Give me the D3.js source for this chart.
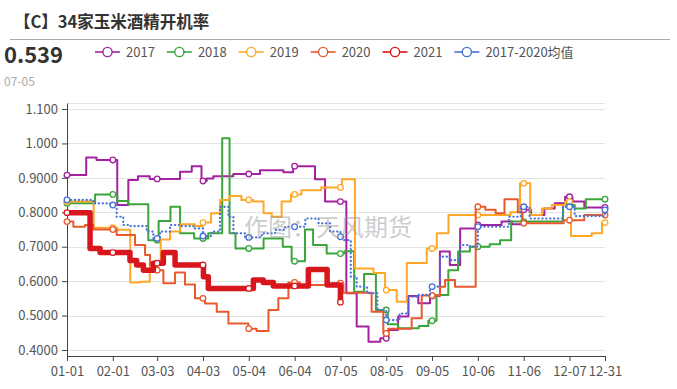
<!DOCTYPE html>
<html><head><meta charset="utf-8">
<script src="https://cdn.jsdelivr.net/npm/d3@7"></script>
<style>
html,body{margin:0;padding:0;background:#fff;}
svg{display:block;font-family:"Microsoft YaHei","Noto Sans CJK SC","Noto Sans",sans-serif;}
</style></head>
<body><svg id="c" width="677" height="389"></svg>
<script>
// ---- data ----
const tickDays = [0, 31, 61, 92, 123, 154, 185, 216, 247, 278, 309, 340, 364];
const tickLabels = ["01-01","02-01","03-03","04-03","05-04","06-04","07-05","08-05","09-05","10-06","11-06","12-07","12-31"];
const yTicks = [0.4, 0.5, 0.6, 0.7, 0.8, 0.9, 1.0, 1.1];
const yTickLabels = ["0.4000","0.5000","0.6000","0.7000","0.8000","0.9000","1.000","1.100"];
const seriesNames = ["2017","2018","2019","2020","2021","2017-2020均值"];

const days2017 = [0,13,20,34,41.5,48,56,76.5,84.4,91,94.5,99,112.5,130.6,146.4,153,167.8,174.6,189,196,204,212,217.4,224,231,237.7,245.6,252.3,259,266,277,294,301,308,314,323,330,337,342,350,364];
const vals2017 = [0.908,0.959,0.952,0.821,0.894,0.905,0.897,0.918,0.934,0.891,0.898,0.905,0.911,0.922,0.916,0.934,0.896,0.831,0.565,0.468,0.424,0.434,0.458,0.497,0.557,0.536,0.557,0.686,0.647,0.753,0.763,0.773,0.765,0.807,0.792,0.811,0.826,0.845,0.831,0.814,0.814];

const days2018 = [0,19,34,41.5,55,62,70,76.5,86,95.6,105,110,114,133,146,152,161,166.5,175.7,187.7,194.3,201,209,217,224,238,244.5,250,258,264.6,272.6,286,293,300.5,335.6,343.5,351,364];
const vals2018 = [0.826,0.852,0.833,0.823,0.719,0.775,0.816,0.739,0.724,0.739,1.015,0.739,0.695,0.724,0.700,0.658,0.750,0.705,0.680,0.687,0.569,0.621,0.516,0.475,0.463,0.470,0.485,0.560,0.632,0.686,0.700,0.707,0.719,0.773,0.821,0.811,0.838,0.838];

const days2019 = [0,18,34,42.8,49.5,56,63.4,69.7,76.5,86.6,92,97.5,103.5,110,118,126,133,138.5,145.2,151.5,158.6,172,186,194.8,207.3,215.2,223.1,229.9,243.4,250.2,258.1,300,306.5,313.4,321.3,328,337,341,355,362,364];
const vals2019 = [0.831,0.755,0.749,0.596,0.598,0.652,0.721,0.744,0.765,0.760,0.770,0.797,0.836,0.847,0.836,0.831,0.797,0.787,0.831,0.852,0.864,0.872,0.896,0.637,0.624,0.574,0.540,0.653,0.695,0.739,0.792,0.800,0.884,0.792,0.811,0.821,0.831,0.731,0.739,0.770,0.770];

const days2020 = [0,4.3,12.2,17.8,33.6,46,52.8,56.2,60.7,65.2,73.1,79.8,86.6,93.4,101.3,109.2,122.7,128.3,136.3,143,149.8,157.6,180,187,206.1,214,217.4,233.2,240,252.4,255.8,262.5,276.5,283,290,296,305,308,336,350,364];
const vals2020 = [0.773,0.758,0.763,0.750,0.734,0.705,0.676,0.647,0.632,0.594,0.625,0.590,0.550,0.535,0.511,0.477,0.462,0.455,0.516,0.550,0.596,0.589,0.594,0.566,0.511,0.448,0.462,0.492,0.558,0.584,0.603,0.584,0.816,0.807,0.797,0.838,0.800,0.768,0.777,0.792,0.792];

const days2021 = [0,15.6,22.4,42.6,47.1,51.7,58.4,65.2,73.1,92.3,95.6,126.1,132.8,139.6,163.3,176,185];
const vals2021 = [0.799,0.695,0.683,0.660,0.647,0.632,0.652,0.683,0.647,0.613,0.579,0.603,0.596,0.586,0.634,0.589,0.539];

const daysAvg = [0,17.8,29.1,33.6,38.1,42.6,53.9,58.4,62.9,69.7,76.5,85.5,92,97.9,103.5,109.2,112.6,120.5,131.8,140.8,147.6,161.2,170.2,178,185,187,192,196,203,210,216,225,231,238,245.6,252.3,259,265.8,272.5,278,299,307,313,335.6,343.5,364];
const valsAvg = [0.836,0.826,0.821,0.787,0.763,0.760,0.744,0.724,0.744,0.763,0.760,0.753,0.731,0.744,0.816,0.787,0.739,0.727,0.739,0.749,0.758,0.782,0.768,0.744,0.729,0.719,0.613,0.584,0.565,0.516,0.487,0.506,0.555,0.560,0.584,0.671,0.661,0.705,0.700,0.758,0.787,0.816,0.782,0.816,0.789,0.807];

const lastValue = "0.539";
const lastDate = "07-05";
const titleText = "【C】34家玉米酒精开机率";
const watermark = "作图：天风期货";

// ---- build ----
const seriesDays = [days2017, days2018, days2019, days2020, days2021, daysAvg];
const seriesVals = [vals2017, vals2018, vals2019, vals2020, vals2021, valsAvg];
const colors = ["#a3229f","#3aa53a","#ffa726","#e85a2e","#d8161d","#4a72d6"];
const widths = [2, 2, 2, 2, 5.5, 2.2];

const svg = d3.select("#c");
const L = 67, R = 605, T = 103, B = 356;
const x = d3.scaleLinear().domain([0, 364]).range([L, R]);
const y = d3.scaleLinear().domain([0.3826, 1.1174]).range([B, T]);

// header
svg.append("text").attr("x", 14).attr("y", 28).attr("font-size", 16.5).attr("font-weight", "bold")
  .attr("fill", "#333").text(titleText);
svg.append("line").attr("x1", 10).attr("x2", 670).attr("y1", 39.5).attr("y2", 39.5)
  .attr("stroke", "#aaa").attr("stroke-width", 1);
svg.append("text").attr("x", 4).attr("y", 63).attr("font-size", 22).attr("font-weight", "bold")
  .attr("fill", "#333").text(lastValue);
svg.append("text").attr("x", 4).attr("y", 86).attr("font-size", 12).attr("fill", "#aaa").text(lastDate);

// gridlines
const grid = svg.append("g");
yTicks.concat([y.domain()[1]]).forEach(v => {
  grid.append("line").attr("x1", L).attr("x2", R).attr("y1", Math.round(y(v)) + 0.5).attr("y2", Math.round(y(v)) + 0.5)
    .attr("stroke", "#e3e3e3").attr("stroke-width", 1);
});

// axes
const xa = svg.append("g").attr("transform", `translate(0,${B})`)
  .call(d3.axisBottom(x).tickValues(tickDays).tickFormat((d, i) => tickLabels[i]).tickSize(5).tickPadding(6).tickSizeOuter(0));
const ya = svg.append("g").attr("transform", `translate(${L},0)`)
  .call(d3.axisLeft(y).tickValues(yTicks).tickFormat((d, i) => yTickLabels[i]).tickSize(5).tickPadding(4).tickSizeOuter(0));
[xa, ya].forEach(g => {
  g.select(".domain").attr("stroke", "#444");
  g.selectAll(".tick line").attr("stroke", "#444");
  g.selectAll("text").attr("font-size", 13).attr("fill", "#555")
    .attr("font-family", '"Microsoft YaHei","Noto Sans CJK SC",sans-serif');
});

// lines
const line = d3.line().x(d => x(d[0])).y(d => y(d[1])).curve(d3.curveStepAfter);
function valueAt(days, vals, d) {
  let v = vals[0];
  for (let i = 0; i < days.length; i++) if (days[i] <= d) v = vals[i];
  return v;
}
const plot = svg.append("g");
seriesDays.forEach((days, si) => {
  const vals = seriesVals[si];
  const pts = days.map((d, i) => [d, vals[i]]);
  const p = plot.append("path").attr("d", line(pts)).attr("fill", "none")
    .attr("stroke", colors[si]).attr("stroke-width", widths[si]).attr("stroke-linejoin", "round");
  if (si === 5) p.attr("stroke-dasharray", "0.3,3.6").attr("stroke-linecap", "round");
  const lastDay = days[days.length - 1];
  tickDays.filter(d => d <= lastDay).forEach(d => {
    plot.append("circle").attr("cx", x(d)).attr("cy", y(valueAt(days, vals, d))).attr("r", 2.8)
      .attr("fill", "#fff").attr("stroke", colors[si]).attr("stroke-width", si === 4 ? 1.2 : 1.3);
  });
});

// watermark
svg.append("text").attr("x", 244).attr("y", 236).attr("font-size", 24).attr("fill", "#999")
  .attr("fill-opacity", 0.5).text(watermark);

// legend
const leg = svg.append("g");
let lx = 95;
seriesNames.forEach((name, i) => {
  const g = leg.append("g");
  g.append("line").attr("x1", lx).attr("x2", lx + 25).attr("y1", 52).attr("y2", 52)
    .attr("stroke", colors[i]).attr("stroke-width", 1.6);
  g.append("circle").attr("cx", lx + 12.5).attr("cy", 52).attr("r", 4.6).attr("fill", "#fff")
    .attr("stroke", colors[i]).attr("stroke-width", 1.4);
  const t = g.append("text").attr("x", lx + 31).attr("y", 56.5).attr("font-size", 13).attr("fill", "#555").text(name);
  lx += 31 + t.node().getComputedTextLength() + 12;
});
</script></body></html>
